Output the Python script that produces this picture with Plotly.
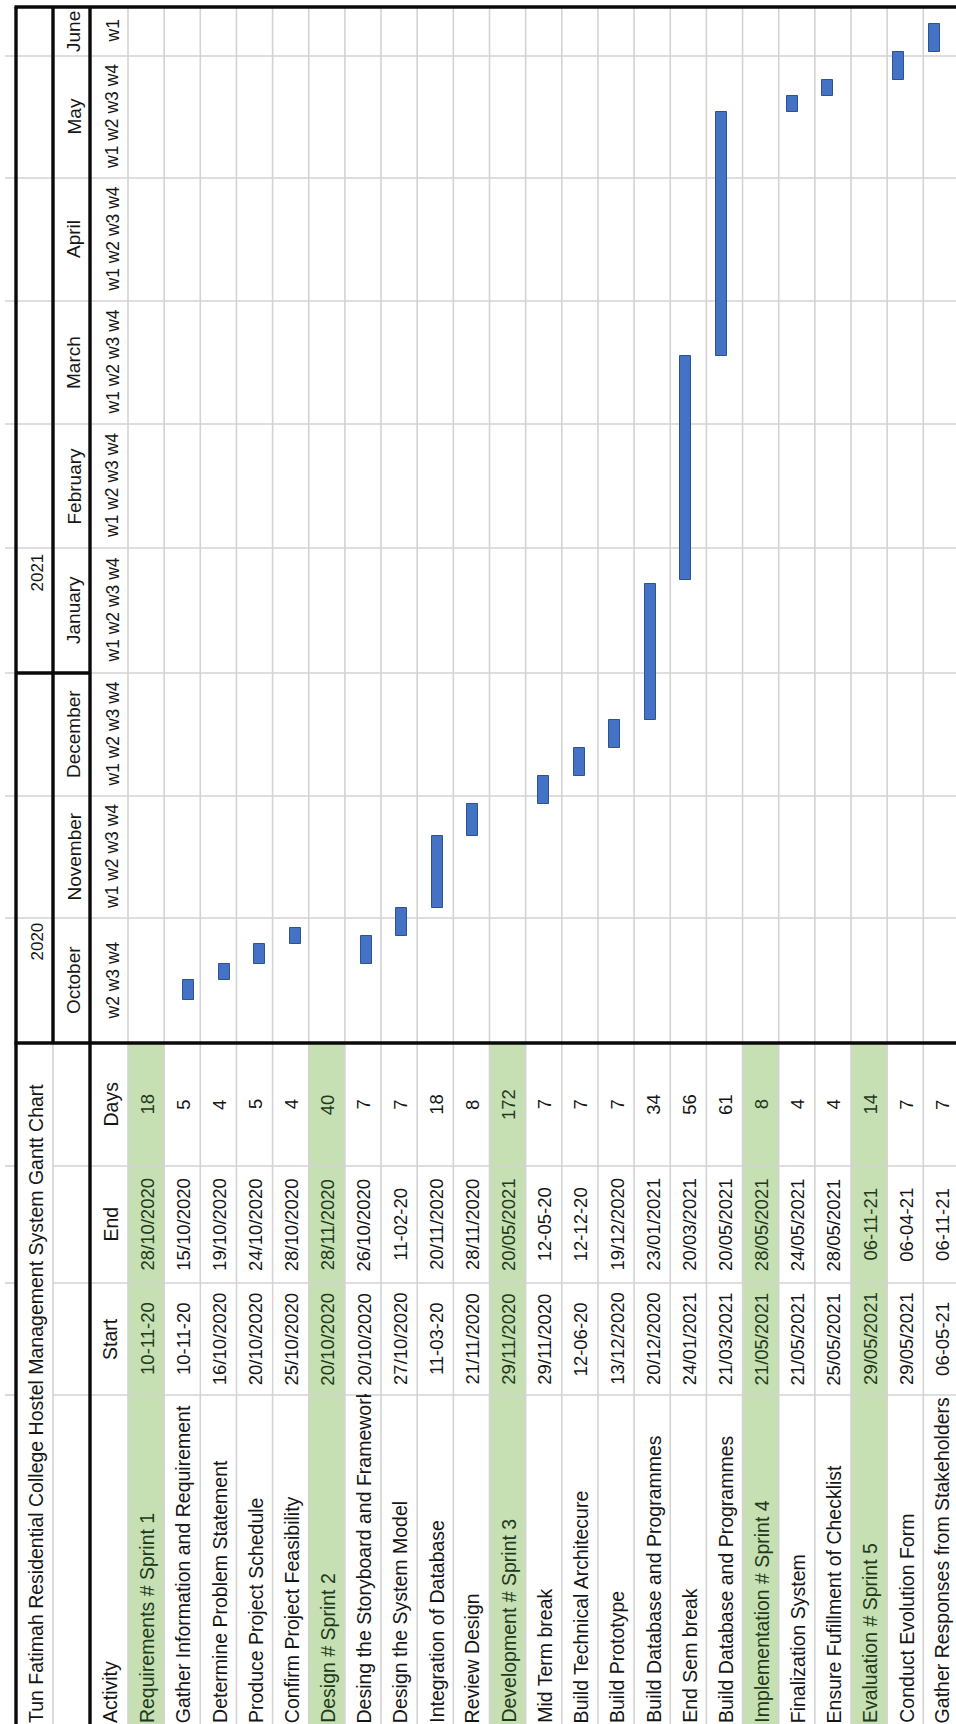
import datetime as dt
import plotly.graph_objects as go

# ---------------------------------------------------------------- sheet data
title = "Tun Fatimah Residential College Hostel Management System Gantt Chart"
headers = ["Activity", "Start", "End", "Days"]

activities = [
    "Requirements # Sprint 1",
    "Gather Information and Requirement",
    "Determine Problem Statement",
    "Produce Project Schedule",
    "Confirm Project Feasibility",
    "Design # Sprint 2",
    "Desing the Storyboard and Framework",
    "Design the System Model",
    "Integration of Database",
    "Review Design",
    "Development # Sprint 3",
    "Mid Term break",
    "Build Technical Architecure",
    "Build Prototype",
    "Build Database and Programmes",
    "End Sem break",
    "Build Database and Programmes",
    "Implementation # Sprint 4",
    "Finalization System",
    "Ensure Fufillment of Checklist",
    "Evaluation # Sprint 5",
    "Conduct Evolution Form",
    "Gather Responses from Stakeholders",
]
start_labels = [
    "10-11-20", "10-11-20", "16/10/2020", "20/10/2020", "25/10/2020",
    "20/10/2020", "20/10/2020", "27/10/2020", "11-03-20", "21/11/2020",
    "29/11/2020", "29/11/2020", "12-06-20", "13/12/2020", "20/12/2020",
    "24/01/2021", "21/03/2021", "21/05/2021", "21/05/2021", "25/05/2021",
    "29/05/2021", "29/05/2021", "06-05-21",
]
end_labels = [
    "28/10/2020", "15/10/2020", "19/10/2020", "24/10/2020", "28/10/2020",
    "28/11/2020", "26/10/2020", "11-02-20", "20/11/2020", "28/11/2020",
    "20/05/2021", "12-05-20", "12-12-20", "19/12/2020", "23/01/2021",
    "20/03/2021", "20/05/2021", "28/05/2021", "24/05/2021", "28/05/2021",
    "06-11-21", "06-04-21", "06-11-21",
]
days = [18, 5, 4, 5, 4, 40, 7, 7, 18, 8, 172, 7, 7, 7, 34, 56, 61, 8, 4, 4, 14, 7, 7]

years = ["2020", "2021"]
months = ["October", "November", "December", "January", "February",
          "March", "April", "May", "June"]
week_labels = ["w2 w3 w4", "w1 w2 w3 w4", "w1 w2 w3 w4", "w1 w2 w3 w4",
               "w1 w2 w3 w4", "w1 w2 w3 w4", "w1 w2 w3 w4", "w1 w2 w3 w4", "w1"]


def sheet_date(label):
    """Cells typed as dd/mm/yyyy stayed text; the others were read as m-d-y."""
    if "/" in label:
        d, m, y = map(int, label.split("/"))
    else:
        m, d, y = map(int, label.split("-"))
        y += 2000
    return dt.datetime(y, m, d)


# ------------------------------------------------------------ sheet geometry
W, H = 956, 1724
X_MARGIN = 5          # gridline stubs left of the sheet border
X_BORDER = 16         # outer border
X_TITLE_END = 53      # title / year band
X_MONTH_END = 90      # blank / month band
X_HEAD_END = 128      # header / week band
ROW_H = 36.15
Y_TOP = 7
MONTH_EDGES = [1043, 918, 796, 673, 548, 424, 301, 178, 56, Y_TOP]
YEAR_Y = [942, 573]
YEAR_SPLIT = 673
COL_EDGES = [1043, 1166, 1283, 1395, H]   # Days | End | Start | Activity
TEXT_BASE = 1723

# timeline scale used by the chart overlay
ORIGIN = dt.datetime(2020, 10, 11)
ORIGIN_PX = 1000.0
PX_PER_DAY = 4.0
BAR_X0, BAR_STEP = 188.5, 35.52     # overlay category spacing (px)

GRID = "#d3d3d3"
INK = "#161616"
SPRINT_FILL = "#c6e0b4"
SPRINT_INK = "#22381a"
FONT = "Liberation Sans, Arial, sans-serif"


def row_lo(i):
    return X_HEAD_END + ROW_H * i


def row_mid(i):
    return X_HEAD_END + ROW_H * (i + 0.5)


is_sprint = ["# Sprint" in a for a in activities]
n_rows = len(activities)

fig = go.Figure()

# invisible anchor for the sheet axes
fig.add_trace(go.Scatter(x=[0, W], y=[0, H], mode="markers",
                         marker=dict(opacity=0), hoverinfo="skip",
                         showlegend=False))

# ------------------------------------------------------------ Gantt overlay
bar_x, bar_len, bar_base, bar_text = [], [], [], []
for i in range(n_rows):
    if is_sprint[i]:
        continue
    bar_x.append(i)
    bar_len.append(days[i] * 86400000)
    bar_base.append(sheet_date(start_labels[i]).strftime("%Y-%m-%d"))
    bar_text.append(activities[i])

fig.add_trace(go.Bar(
    x=bar_x, y=bar_len, base=bar_base, width=0.31,
    xaxis="x2", yaxis="y2",
    marker=dict(color="#4472c4", line=dict(color="#2f528f", width=1)),
    hovertext=bar_text, hoverinfo="text", showlegend=False,
))

# ------------------------------------------------------------ cell fills
shapes = []
for i in range(n_rows):
    if is_sprint[i]:
        shapes.append(dict(type="rect", layer="below", xref="x", yref="y",
                           x0=row_lo(i), x1=row_lo(i + 1),
                           y0=COL_EDGES[0], y1=H,
                           fillcolor=SPRINT_FILL, line=dict(width=0)))


def hline(y, x0, x1, color=GRID, width=1.6):
    shapes.append(dict(type="line", layer="below", xref="x", yref="y",
                       x0=x0, x1=x1, y0=y, y1=y,
                       line=dict(color=color, width=width)))


def vline(x, y0, y1, color=GRID, width=1.6):
    shapes.append(dict(type="line", layer="below", xref="x", yref="y",
                       x0=x, x1=x, y0=y0, y1=y1,
                       line=dict(color=color, width=width)))


# light gridlines
for i in range(n_rows + 1):
    vline(row_lo(i), Y_TOP, H)
vline(X_TITLE_END, COL_EDGES[0], H)
for y in MONTH_EDGES[1:-1]:
    hline(y, X_MARGIN, W)
for y in COL_EDGES[1:4]:
    hline(y, X_MARGIN, X_BORDER)
    hline(y, X_TITLE_END, W)

# heavy borders
BLACK = "#0a0a0a"
BW = 3.4
hline(Y_TOP, X_BORDER - 1.5, W, BLACK, BW)
hline(COL_EDGES[0], X_BORDER - 1.5, W, BLACK, BW)
hline(YEAR_SPLIT, X_BORDER, X_MONTH_END, BLACK, BW)
vline(X_BORDER, Y_TOP, H, BLACK, BW)
vline(X_TITLE_END, Y_TOP, COL_EDGES[0], BLACK, BW)
vline(X_MONTH_END, Y_TOP, H, BLACK, BW)

# ------------------------------------------------------------ cell text
ann = []


def label(text, x, y, size, yanchor="middle", color=INK, **kw):
    ann.append(dict(text=text, x=x, y=y, xref="x", yref="y",
                    textangle=-90, showarrow=False, xanchor="center",
                    yanchor=yanchor, borderpad=0, borderwidth=0,
                    font=dict(family=FONT, size=size, color=color), **kw))


# timeline header
for k, yr in enumerate(years):
    label(yr, (X_BORDER + X_TITLE_END) / 2 + 2, YEAR_Y[k], 17)
for k, m in enumerate(months):
    yc = (MONTH_EDGES[k] + MONTH_EDGES[k + 1]) / 2
    label(m, (X_TITLE_END + X_MONTH_END) / 2 + 2, yc, 19)
    label(week_labels[k], (X_MONTH_END + X_HEAD_END) / 2 + 3, yc, 17.5)

# table header
label(title, (X_BORDER + X_TITLE_END) / 2 + 1, TEXT_BASE, 19.5, yanchor="bottom")
head_y = (X_MONTH_END + X_HEAD_END) / 2 + 1
label(headers[0], head_y, TEXT_BASE, 19.5, yanchor="bottom")
label(headers[1], head_y, (COL_EDGES[2] + COL_EDGES[3]) / 2, 19.5)
label(headers[2], head_y, (COL_EDGES[1] + COL_EDGES[2]) / 2, 19.5)
label(headers[3], head_y, (COL_EDGES[0] + COL_EDGES[1]) / 2, 19.5)

# activity rows (names first so the Start cells clip any overflow)
for i in range(n_rows):
    c = SPRINT_INK if is_sprint[i] else INK
    label(activities[i], row_mid(i) + 1, TEXT_BASE, 19.5, yanchor="bottom", color=c)
start_len = COL_EDGES[3] - COL_EDGES[2] - 3
for i in range(n_rows):
    c = SPRINT_INK if is_sprint[i] else INK
    bg = SPRINT_FILL if is_sprint[i] else "#ffffff"
    label(start_labels[i], row_mid(i) + 1, (COL_EDGES[2] + COL_EDGES[3]) / 2,
          18.5, color=c, bgcolor=bg, width=start_len, height=ROW_H - 4)
    label(end_labels[i], row_mid(i) + 1, (COL_EDGES[1] + COL_EDGES[2]) / 2,
          18.5, color=c)
    label(str(days[i]), row_mid(i) + 1, (COL_EDGES[0] + COL_EDGES[1]) / 2,
          18.5, color=c)

# ------------------------------------------------------------ axes
day_lo = (ORIGIN_PX - H) / PX_PER_DAY
day_hi = ORIGIN_PX / PX_PER_DAY
date_lo = (ORIGIN + dt.timedelta(days=day_lo)).strftime("%Y-%m-%d %H:%M:%S")
date_hi = (ORIGIN + dt.timedelta(days=day_hi)).strftime("%Y-%m-%d %H:%M:%S")
cat_lo = 1 - BAR_X0 / BAR_STEP
cat_hi = 1 + (W - BAR_X0) / BAR_STEP

hidden = dict(visible=False, showgrid=False, zeroline=False, fixedrange=True)
fig.update_layout(
    width=W, height=H,
    margin=dict(l=0, r=0, t=0, b=0),
    paper_bgcolor="#ffffff", plot_bgcolor="#ffffff",
    xaxis=dict(range=[0, W], domain=[0, 1], **hidden),
    yaxis=dict(range=[H, 0], domain=[0, 1], **hidden),
    xaxis2=dict(range=[cat_lo, cat_hi], overlaying="x", anchor="y", **hidden),
    yaxis2=dict(type="date", range=[date_lo, date_hi], overlaying="y",
                anchor="x", **hidden),
    shapes=shapes,
    annotations=ann,
    bargap=0,
)

fig.write_html("out.html")
